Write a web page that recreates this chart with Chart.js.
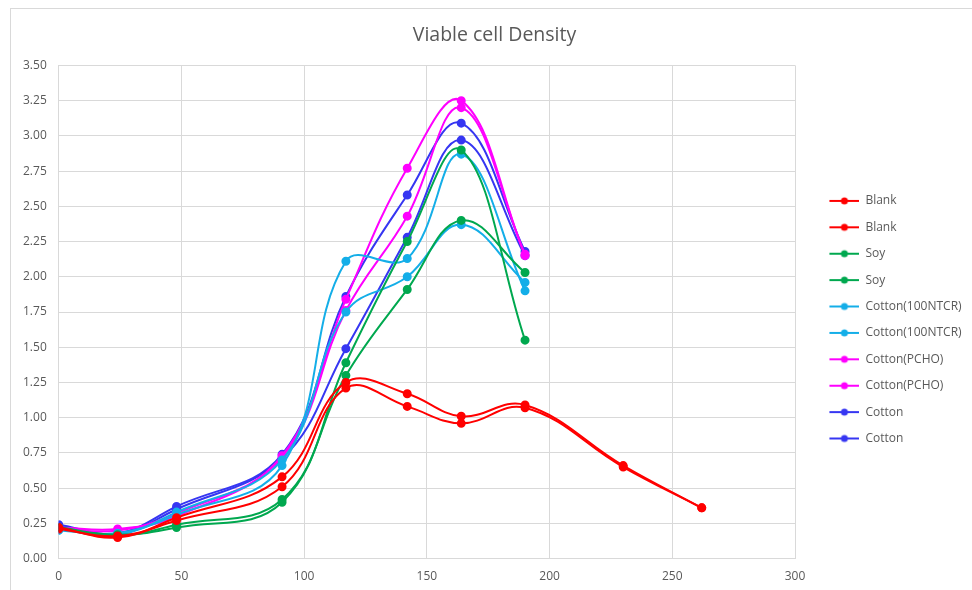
<!DOCTYPE html>
<html>
<head>
<meta charset="utf-8">
<script src="https://cdn.jsdelivr.net/npm/chart.js@4"></script>
<style>
  html, body { margin: 0; padding: 0; background: #fff; }
  #frame {
    position: absolute; left: 10px; top: 8px; width: 962px; height: 582px;
    border-left: 1px solid #d9d9d9; border-top: 1px solid #d9d9d9;
  }
</style>
</head>
<body>
<div id="frame"><canvas id="cellChart" width="961" height="581"></canvas></div>
<script>
// time points (hours)
const timeMain = [0, 24, 48, 91, 117, 142, 164, 190];
const timeBlank = [0, 24, 48, 91, 117, 142, 164, 190, 230, 262];

// viable cell density per run
const blank1 = [0.22, 0.15, 0.29, 0.58, 1.25, 1.17, 1.01, 1.09, 0.66, 0.36];
const blank2 = [0.21, 0.16, 0.27, 0.51, 1.21, 1.08, 0.96, 1.07, 0.65, 0.36];
const soy1 = [0.22, 0.17, 0.22, 0.40, 1.39, 2.25, 2.90, 1.55];
const soy2 = [0.22, 0.16, 0.24, 0.42, 1.30, 1.91, 2.40, 2.03];
const ntcr1 = [0.20, 0.18, 0.31, 0.66, 2.11, 2.13, 2.87, 1.90];
const ntcr2 = [0.21, 0.17, 0.33, 0.70, 1.75, 2.00, 2.37, 1.96];
const pcho1 = [0.22, 0.21, 0.30, 0.73, 1.84, 2.77, 3.25, 2.15];
const pcho2 = [0.21, 0.20, 0.32, 0.72, 1.76, 2.43, 3.20, 2.16];
const cotton1 = [0.24, 0.18, 0.37, 0.74, 1.86, 2.58, 3.09, 2.18];
const cotton2 = [0.23, 0.17, 0.35, 0.71, 1.49, 2.28, 2.97, 2.15];

const RED = '#ff0000', GREEN = '#00a84f', CYAN = '#14aee8', MAGENTA = '#ff00ff', BLUE = '#3636f2';

// line + dot marker for the legend, with blank space on its left
function marker(color) {
  const c = document.createElement('canvas');
  c.width = 50; c.height = 10;
  const g = c.getContext('2d');
  g.strokeStyle = color; g.lineWidth = 2;
  g.beginPath(); g.moveTo(20, 5); g.lineTo(50, 5); g.stroke();
  g.fillStyle = color;
  g.beginPath(); g.arc(35, 5, 3.5, 0, Math.PI * 2); g.fill();
  return c;
}

function series(label, xs, ys, color) {
  return {
    label: label,
    data: xs.map((x, i) => ({ x: x, y: ys[i] })),
    borderColor: color,
    backgroundColor: color,
    pointBackgroundColor: color,
    pointBorderColor: color,
    borderWidth: 2,
    pointRadius: 3.5,
    tension: 0.4,
    fill: false,
    pointStyle: 'circle',
    legendMarker: marker(color)
  };
}

const datasets = [
  series('Blank', timeBlank, blank1, RED),
  series('Blank', timeBlank, blank2, RED),
  series('Soy', timeMain, soy1, GREEN),
  series('Soy', timeMain, soy2, GREEN),
  series('Cotton(100NTCR)', timeMain, ntcr1, CYAN),
  series('Cotton(100NTCR)', timeMain, ntcr2, CYAN),
  series('Cotton(PCHO)', timeMain, pcho1, MAGENTA),
  series('Cotton(PCHO)', timeMain, pcho2, MAGENTA),
  series('Cotton', timeMain, cotton1, BLUE),
  series('Cotton', timeMain, cotton2, BLUE)
];

const FONT = "'Open Sans', 'Liberation Sans', sans-serif";
const GRAY = '#595959';

new Chart(document.getElementById('cellChart'), {
  type: 'line',
  data: { datasets: datasets },
  options: {
    responsive: false,
    animation: false,
    layout: { padding: { left: 0, right: -6, top: 0, bottom: -5 } },
    plugins: {
      title: {
        display: true,
        text: 'Viable cell Density',
        color: GRAY,
        font: { family: FONT, size: 19.5, weight: 'normal' },
        padding: { top: 15, bottom: 18 }
      },
      legend: {
        position: 'right',
        align: 'center',
        title: { display: true, text: ' ', font: { size: 12 }, padding: { top: 21, bottom: 0 } },
        labels: {
          color: GRAY,
          font: { family: FONT, size: 12 },
          usePointStyle: true,
          pointStyleWidth: 50,
          padding: 14.4,
          generateLabels: chart => chart.data.datasets.map((ds, i) => ({
            text: ds.label,
            pointStyle: ds.legendMarker,
            fillStyle: ds.borderColor,
            strokeStyle: ds.borderColor,
            lineWidth: 0,
            hidden: false,
            datasetIndex: i,
            fontColor: GRAY
          }))
        }
      },
      tooltip: { enabled: false }
    },
    scales: {
      x: {
        type: 'linear',
        min: 0, max: 300,
        ticks: { stepSize: 50, color: GRAY, font: { family: FONT, size: 12 }, padding: 11 },
        grid: { color: '#d9d9d9', drawTicks: false },
        border: { color: '#d9d9d9' },
        // keep a wider gap between the plot and the legend
        afterFit: scale => { scale.paddingRight = 177; }
      },
      y: {
        min: 0, max: 3.5,
        ticks: {
          stepSize: 0.25, color: GRAY, font: { family: FONT, size: 12 }, padding: 12,
          callback: v => v.toFixed(2)
        },
        grid: { color: '#d9d9d9', drawTicks: false },
        border: { color: '#d9d9d9' }
      }
    }
  }
});
</script>
</body>
</html>
